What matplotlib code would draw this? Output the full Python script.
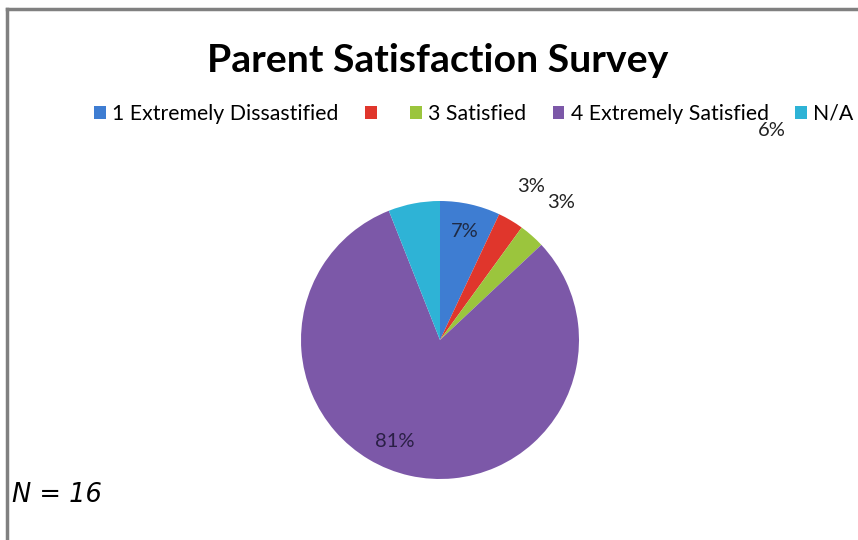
import numpy as np
import matplotlib.pyplot as plt
from matplotlib.patches import Patch
from matplotlib.lines import Line2D

# survey data
categories = ['1 Extremely Dissastified', '', '3 Satisfied', '4 Extremely Satisfied', 'N/A']
values = [7, 3, 3, 81, 6]
colors = ['#3E7DD2', '#E0362C', '#9BC53D', '#7C58A8', '#2EB3D6']
pct_labels = ['7%', '3%', '3%', '81%', '6%']

W, H = 858, 540
fig = plt.figure(figsize=(W / 100, H / 100), dpi=100)
fig.patch.set_facecolor('white')

# frame lines (top and left only)
fig.add_artist(Line2D([7 / W, 1], [1 - 9 / H, 1 - 9 / H], color='#808080', lw=2.5))
fig.add_artist(Line2D([7 / W, 7 / W], [0, 1 - 9 / H], color='#808080', lw=2.5))

# pie axes
cx, cy, r = 440, 340, 139
ax = fig.add_axes([(cx - r) / W, (H - cy - r) / H, 2 * r / W, 2 * r / H])
wedges, _ = ax.pie(values, colors=colors, startangle=90, counterclock=False,
                   radius=1.0, wedgeprops=dict(linewidth=0))
ax.set_xlim(-1, 1)
ax.set_ylim(-1, 1)
ax.set_aspect('equal')
ax.axis('off')

# percentage labels: radius factor per slice
label_r = [0.80, 1.28, 1.32, 0.80, None]
for w, txt, lr in zip(wedges, pct_labels, label_r):
    if lr is None:
        continue
    ang = np.deg2rad((w.theta1 + w.theta2) / 2)
    col = '#1F2A44' if lr < 1 else '#222222'
    if txt == '81%':
        ang = np.deg2rad(246)
        col = '#2A1F45'
    x, y = lr * np.cos(ang), lr * np.sin(ang)
    ax.text(x, y, txt, ha='center', va='center', fontsize=14.5, color=col,
            family='Lato')

# the N/A label ends up under the legend
fig.text(772 / W, 1 - 131 / H, pct_labels[4], ha='center', va='center',
         fontsize=14.5, color='#222222', family='Lato')

# title
fig.text(438 / W, 1 - 60 / H, 'Parent Satisfaction Survey', ha='center', va='center',
         fontsize=28.3, fontweight='bold', family='Lato', color='black')

# legend
handles = [Patch(facecolor=c, edgecolor='none') for c in colors]
leg = fig.legend(handles, categories, loc='center', bbox_to_anchor=(474 / W, 1 - 114 / H),
                 ncol=5, frameon=False, handlelength=0.55, handleheight=0.55,
                 handletextpad=0.3, columnspacing=1.25,
                 prop=dict(family='Lato', size=15.3))

# sample size note
fig.text(12 / W, 1 - 495 / H, 'N = 16', ha='left', va='center', fontsize=18.5,
         style='italic', family='DejaVu Sans')

plt.savefig('out.png', dpi=100)
